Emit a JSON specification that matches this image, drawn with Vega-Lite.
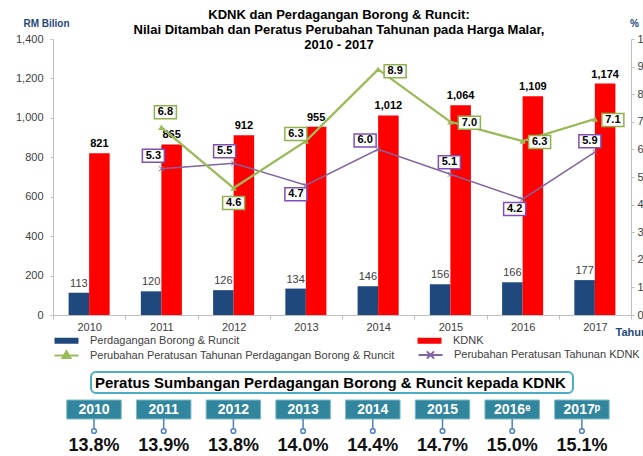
{
  "$schema": "https://vega.github.io/schema/vega-lite/v6.json",
  "padding": {"left": 15, "top": 9, "right": 0, "bottom": 0},
  "background": "white",
  "bounds": "flush",
  "spacing": 57,
  "config": {
    "font": "Liberation Sans",
    "view": {"stroke": null},
    "legend": {"labelFont": "Liberation Sans", "labelFontSize": 11, "labelColor": "#404040", "labelLimit": 400, "padding": 0, "titlePadding": 0}
  },
  "datasets": {
    "bars": [
      {"year": "2010", "series": "Perdagangan Borong & Runcit", "value": 113},
      {"year": "2011", "series": "Perdagangan Borong & Runcit", "value": 120},
      {"year": "2012", "series": "Perdagangan Borong & Runcit", "value": 126},
      {"year": "2013", "series": "Perdagangan Borong & Runcit", "value": 134},
      {"year": "2014", "series": "Perdagangan Borong & Runcit", "value": 146},
      {"year": "2015", "series": "Perdagangan Borong & Runcit", "value": 156},
      {"year": "2016", "series": "Perdagangan Borong & Runcit", "value": 166},
      {"year": "2017", "series": "Perdagangan Borong & Runcit", "value": 177},
      {"year": "2010", "series": "KDNK", "value": 821},
      {"year": "2011", "series": "KDNK", "value": 865},
      {"year": "2012", "series": "KDNK", "value": 912},
      {"year": "2013", "series": "KDNK", "value": 955},
      {"year": "2014", "series": "KDNK", "value": 1012},
      {"year": "2015", "series": "KDNK", "value": 1064},
      {"year": "2016", "series": "KDNK", "value": 1109},
      {"year": "2017", "series": "KDNK", "value": 1174}
    ],
    "lines": [
      {"year": "2011", "series": "Perubahan Peratusan Tahunan Perdagangan Borong & Runcit", "pct": 6.8},
      {"year": "2012", "series": "Perubahan Peratusan Tahunan Perdagangan Borong & Runcit", "pct": 4.6},
      {"year": "2013", "series": "Perubahan Peratusan Tahunan Perdagangan Borong & Runcit", "pct": 6.3},
      {"year": "2014", "series": "Perubahan Peratusan Tahunan Perdagangan Borong & Runcit", "pct": 8.9},
      {"year": "2015", "series": "Perubahan Peratusan Tahunan Perdagangan Borong & Runcit", "pct": 7.0},
      {"year": "2016", "series": "Perubahan Peratusan Tahunan Perdagangan Borong & Runcit", "pct": 6.3},
      {"year": "2017", "series": "Perubahan Peratusan Tahunan Perdagangan Borong & Runcit", "pct": 7.1},
      {"year": "2011", "series": "Perubahan Peratusan Tahunan KDNK", "pct": 5.3},
      {"year": "2012", "series": "Perubahan Peratusan Tahunan KDNK", "pct": 5.5},
      {"year": "2013", "series": "Perubahan Peratusan Tahunan KDNK", "pct": 4.7},
      {"year": "2014", "series": "Perubahan Peratusan Tahunan KDNK", "pct": 6.0},
      {"year": "2015", "series": "Perubahan Peratusan Tahunan KDNK", "pct": 5.1},
      {"year": "2016", "series": "Perubahan Peratusan Tahunan KDNK", "pct": 4.2},
      {"year": "2017", "series": "Perubahan Peratusan Tahunan KDNK", "pct": 5.9}
    ],
    "share": [
      {"year": "2010", "label": "2010", "share": 0.138},
      {"year": "2011", "label": "2011", "share": 0.139},
      {"year": "2012", "label": "2012", "share": 0.138},
      {"year": "2013", "label": "2013", "share": 0.140},
      {"year": "2014", "label": "2014", "share": 0.144},
      {"year": "2015", "label": "2015", "share": 0.147},
      {"year": "2016", "label": "2016ᵉ", "share": 0.150},
      {"year": "2017", "label": "2017ᵖ", "share": 0.151}
    ]
  },
  "vconcat": [
    {
      "width": 578,
      "height": 276,
      "title": {
        "text": ["KDNK dan Perdagangan Borong & Runcit:", "Nilai Ditambah dan Peratus Perubahan Tahunan pada Harga Malar,", "2010 - 2017"],
        "fontSize": 13, "fontWeight": "bold", "color": "#000000", "anchor": "middle", "frame": "group",
        "baseline": "bottom", "offset": -47.5, "lineHeight": 15.2, "dx": -3
      },
      "encoding": {
        "x": {
          "field": "year", "type": "ordinal",
          "scale": {"domain": ["2010", "2011", "2012", "2013", "2014", "2015", "2016", "2017"], "paddingInner": 0, "paddingOuter": 0},
          "axis": {
            "title": "Tahun", "labelAngle": 0, "tickBand": "extent", "tickSize": 4, "tickColor": "#BFBFBF", "domainColor": "#BFBFBF",
            "labelFontSize": 11, "labelColor": "#404040", "labelPadding": 2, "grid": false,
            "titleX": 562, "titleY": 17, "titleAlign": "left", "titleBaseline": "middle", "titleFontSize": 11, "titleFontWeight": "bold", "titleColor": "#1F497D"
          }
        }
      },
      "layer": [
        {
          "data": {"name": "bars"},
          "encoding": {
            "y": {
              "field": "value", "type": "quantitative", "scale": {"domain": [0, 1400]},
              "axis": {
                "values": [0, 200, 400, 600, 800, 1000, 1200, 1400], "format": ",d", "grid": false, "tickSize": 3, "tickColor": "#BFBFBF", "domainColor": "#BFBFBF",
                "labelFontSize": 11, "labelColor": "#404040", "labelPadding": 7,
                "title": "RM Bilion", "titleAngle": 0, "titleX": -7, "titleY": -16, "titleAlign": "center", "titleBaseline": "middle", "titleFontSize": 10, "titleFontWeight": "bold", "titleColor": "#1F497D"
              }
            },
            "xOffset": {"field": "series", "type": "nominal", "scale": {"domain": ["Perdagangan Borong & Runcit", "KDNK"], "paddingInner": 0, "paddingOuter": 0.76}}
          },
          "layer": [
            {
              "mark": {"type": "bar"},
              "encoding": {
                "fill": {
                  "field": "series", "type": "nominal",
                  "scale": {"domain": ["Perdagangan Borong & Runcit", "KDNK"], "range": ["#1F497D", "#FF0000"]},
                  "legend": {"title": null, "orient": "none", "legendX": 8, "legendY": 296, "direction": "horizontal", "columns": 2, "columnPadding": 177, "symbolType": "M-3,-0.75H3V0.75H-3Z", "symbolSize": 64, "symbolStrokeWidth": 0, "labelOffset": 18}
                }
              }
            },
            {
              "transform": [{"filter": "datum.series === 'KDNK'"}],
              "mark": {"type": "text", "baseline": "bottom", "dy": -4, "fontSize": 11, "fontWeight": "bold", "color": "#000000"},
              "encoding": {"text": {"field": "value", "type": "quantitative", "format": ",d"}}
            },
            {
              "transform": [{"filter": "datum.series !== 'KDNK'"}],
              "mark": {"type": "text", "baseline": "bottom", "dy": -4, "fontSize": 11, "color": "#404040"},
              "encoding": {"text": {"field": "value", "type": "quantitative", "format": ",d"}}
            }
          ]
        },
        {
          "data": {"name": "lines"},
          "encoding": {
            "y": {
              "field": "pct", "type": "quantitative", "scale": {"domain": [0, 10]},
              "axis": {
                "orient": "right", "values": [0, 1, 2, 3, 4, 5, 6, 7, 8, 9, 10], "format": "d", "grid": false, "tickSize": 3, "tickColor": "#BFBFBF", "domainColor": "#BFBFBF",
                "labelFontSize": 11, "labelColor": "#404040", "labelPadding": 3,
                "title": "%", "titleAngle": 0, "titleX": 3, "titleY": -16, "titleAlign": "center", "titleBaseline": "middle", "titleFontSize": 10, "titleFontWeight": "bold", "titleColor": "#1F497D"
              }
            }
          },
          "layer": [
            {
              "mark": {"type": "line", "strokeWidth": 1.5},
              "encoding": {
                "stroke": {
                  "field": "series", "type": "nominal",
                  "scale": {"domain": ["Perubahan Peratusan Tahunan Perdagangan Borong & Runcit", "Perubahan Peratusan Tahunan KDNK"], "range": ["#9BBB59", "#8064A2"]},
                  "legend": {
                    "title": null, "orient": "none", "legendX": 8, "legendY": 310, "direction": "horizontal", "columns": 2, "columnPadding": 19,
                    "symbolType": "M-3,0H3", "symbolSize": 64, "symbolStrokeWidth": 2, "labelOffset": 18,
                    "encode": {"symbols": {"update": {
                      "shape": {"signal": "datum.value === 'Perubahan Peratusan Tahunan KDNK' ? 'M-3,0H3M-0.9,-0.9L0.9,0.9M-0.9,0.9L0.9,-0.9' : 'M-3,0H3M0,-1.1L1,0.6L-1,0.6Z'"},
                      "fill": {"signal": "datum.value === 'Perubahan Peratusan Tahunan KDNK' ? 'transparent' : '#9BBB59'"}
                    }}}
                  }
                }
              }
            },
            {
              "transform": [{"filter": "datum.series === 'Perubahan Peratusan Tahunan Perdagangan Borong & Runcit'"}],
              "mark": {"type": "line", "strokeWidth": 2.25, "color": "#9BBB59"}
            },
            {
              "transform": [{"filter": "datum.series === 'Perubahan Peratusan Tahunan Perdagangan Borong & Runcit'"}],
              "mark": {"type": "point", "shape": "triangle-up", "filled": true, "fill": "#9BBB59", "size": 40, "opacity": 1, "strokeWidth": 0}
            },
            {
              "transform": [{"filter": "datum.series === 'Perubahan Peratusan Tahunan KDNK'"}],
              "mark": {"type": "point", "shape": "M-1,-1L1,1M-1,1L1,-1", "filled": false, "stroke": "#8064A2", "size": 25, "strokeWidth": 1, "opacity": 1}
            },
            {
              "transform": [{"filter": "datum.series === 'Perubahan Peratusan Tahunan Perdagangan Borong & Runcit'"}],
              "mark": {
                "type": "point", "shape": "M-2.2,-1.3H2.2V1.3H-2.2Z", "size": 100, "filled": true, "fill": "#FFFFFF", "stroke": "#8DB24B", "strokeWidth": 1.5, "opacity": 1,
                "xOffset": {"expr": "[0,4,0,-10,17,19,17,18][toNumber(datum.year)-2010]"},
                "yOffset": {"expr": "[0,-15,15,-7,2,1,1,1][toNumber(datum.year)-2010]"}
              }
            },
            {
              "transform": [{"filter": "datum.series === 'Perubahan Peratusan Tahunan Perdagangan Borong & Runcit'"}],
              "mark": {
                "type": "text", "fontSize": 11, "fontWeight": "bold", "color": "#000000", "baseline": "middle",
                "xOffset": {"expr": "[0,4,0,-10,17,19,17,18][toNumber(datum.year)-2010]"},
                "yOffset": {"expr": "[0,-15,15,-7,2,1,1,1][toNumber(datum.year)-2010]"}
              },
              "encoding": {"text": {"field": "pct", "type": "quantitative", "format": ".1f"}}
            },
            {
              "transform": [{"filter": "datum.series === 'Perubahan Peratusan Tahunan KDNK'"}],
              "mark": {
                "type": "point", "shape": "M-2.2,-1.3H2.2V1.3H-2.2Z", "size": 100, "filled": true, "fill": "#FFFFFF", "stroke": "#7F4FB8", "strokeWidth": 1.5, "opacity": 1,
                "xOffset": {"expr": "[0,-8,-9,-10,-13,-1,-8,-5][toNumber(datum.year)-2010]"},
                "yOffset": {"expr": "[0,-13,-12,9,-9,-12,10,-11][toNumber(datum.year)-2010]"}
              }
            },
            {
              "transform": [{"filter": "datum.series === 'Perubahan Peratusan Tahunan KDNK'"}],
              "mark": {
                "type": "text", "fontSize": 11, "fontWeight": "bold", "color": "#000000", "baseline": "middle",
                "xOffset": {"expr": "[0,-8,-9,-10,-13,-1,-8,-5][toNumber(datum.year)-2010]"},
                "yOffset": {"expr": "[0,-13,-12,9,-9,-12,10,-11][toNumber(datum.year)-2010]"}
              },
              "encoding": {"text": {"field": "pct", "type": "quantitative", "format": ".1f"}}
            }
          ]
        }
      ],
      "resolve": {"scale": {"y": "independent"}}
    },
    {
      "bounds": "flush",
      "spacing": 7,
      "vconcat": [
        {
          "width": 578,
          "height": 21,
          "data": {"values": [{"label": "Peratus Sumbangan Perdagangan Borong & Runcit kepada KDNK"}]},
          "layer": [
            {
              "mark": {"type": "rect", "fill": "#FFFFFF", "stroke": "#4BACC6", "strokeWidth": 2, "cornerRadius": 5},
              "encoding": {
                "x": {"datum": "2010", "type": "ordinal", "bandPosition": 0.445, "scale": {"domain": ["2010", "2011", "2012", "2013", "2014", "2015", "2016", "2017"], "range": [6.15, 563.75], "paddingInner": 0.218, "paddingOuter": 0.109}, "axis": null},
                "x2": {"datum": "2017", "bandPosition": 0.337}
              }
            },
            {
              "mark": {"type": "text", "fontSize": 15, "fontWeight": "bold", "color": "#000000"},
              "encoding": {
                "x": {"datum": "2013", "type": "ordinal", "bandPosition": 1, "scale": {"domain": ["2010", "2011", "2012", "2013", "2014", "2015", "2016", "2017"], "range": [6.15, 563.75], "paddingInner": 0.218, "paddingOuter": 0.109}, "axis": null},
                "text": {"field": "label"}
              }
            }
          ]
        },
        {
          "bounds": "flush",
          "spacing": 0,
          "vconcat": [
            {
              "width": 578,
              "height": 19,
              "data": {"name": "share"},
              "encoding": {
                "x": {"field": "year", "type": "ordinal", "scale": {"domain": ["2010", "2011", "2012", "2013", "2014", "2015", "2016", "2017"], "range": [6.15, 563.75], "paddingInner": 0.218, "paddingOuter": 0.109}, "axis": null}
              },
              "layer": [
                {"mark": {"type": "rect", "fill": "#31859C", "stroke": "#7DBBCB", "strokeWidth": 1}},
                {"mark": {"type": "text", "color": "#FFFFFF", "fontSize": 14, "fontWeight": "bold"}, "encoding": {"text": {"field": "label"}}}
              ]
            },
            {
              "width": 578,
              "height": 10,
              "data": {"name": "share"},
              "mark": {"type": "rule", "color": "#4F81BD", "strokeWidth": 1.5},
              "encoding": {
                "x": {"field": "year", "type": "ordinal", "scale": {"domain": ["2010", "2011", "2012", "2013", "2014", "2015", "2016", "2017"], "range": [6.15, 563.75], "paddingInner": 0.218, "paddingOuter": 0.109}, "axis": null}
              }
            },
            {
              "width": 578,
              "height": 4,
              "data": {"name": "share"},
              "mark": {"type": "point", "shape": "circle", "size": 22, "filled": true, "fill": "#FFFFFF", "stroke": "#4F81BD", "strokeWidth": 1.5, "opacity": 1},
              "encoding": {
                "x": {"field": "year", "type": "ordinal", "scale": {"domain": ["2010", "2011", "2012", "2013", "2014", "2015", "2016", "2017"], "range": [6.15, 563.75], "paddingInner": 0.218, "paddingOuter": 0.109}, "axis": null}
              }
            },
            {
              "width": 578,
              "height": 26,
              "data": {"name": "share"},
              "mark": {"type": "text", "fontSize": 18, "fontWeight": "bold", "color": "#111111"},
              "encoding": {
                "x": {"field": "year", "type": "ordinal", "scale": {"domain": ["2010", "2011", "2012", "2013", "2014", "2015", "2016", "2017"], "range": [6.15, 563.75], "paddingInner": 0.218, "paddingOuter": 0.109}, "axis": null},
                "text": {"field": "share", "type": "quantitative", "format": ".1%"}
              }
            }
          ]
        }
      ]
    }
  ]
}
